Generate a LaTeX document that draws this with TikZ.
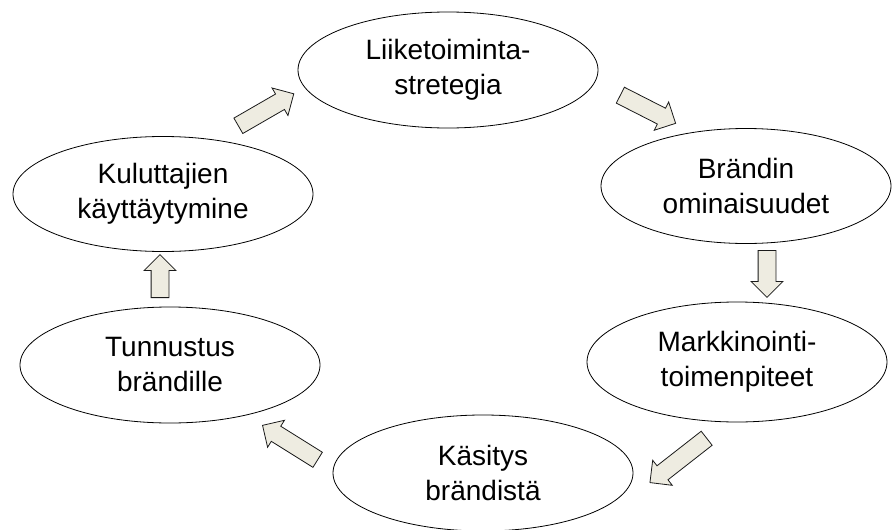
\documentclass[tikz,border=0pt]{standalone}
\usepackage{fontspec}
\setmainfont{Liberation Sans}
\usepackage{tikz}
\usetikzlibrary{shapes,shapes.geometric,shapes.arrows,calc,positioning}
\usepackage{xcolor}
\definecolor{arrowfill}{HTML}{EEECE1}
\definecolor{arrowline}{HTML}{1A1A1A}

\begin{document}
\begin{tikzpicture}[x=1pt,y=-1pt,
	  every node/.style={align=center,text=black},
	  stage/.style={ellipse,draw=black,line width=0.8pt,fill=white,inner sep=0pt,
	    minimum width=300pt,minimum height=116pt,font=\fontsize{28}{35}\selectfont},
	  flow/.style={single arrow,draw=arrowline,fill=arrowfill,line width=0.8pt,
	    inner xsep=0pt,inner ysep=8.5pt,single arrow head extend=7pt,
	    single arrow head indent=0pt,anchor=tail}]

	  \useasboundingbox (0,0) rectangle (892,530);

	  % Position the nodes at the reference coordinates
	  \node[stage] (strategia) at (448,70) {Liiketoiminta-\\stretegia};
	  \node[stage,minimum width=290pt,minimum height=115pt] (ominaisuudet) at (746,186) {Brändin\\ominaisuudet};
	  \node[stage,minimum height=120pt] (markkinointi) at (737,362) {Markkinointi-\\toimenpiteet};
	  \node[stage] (kasitys) at (483,473) {Käsitys\\brändistä};
	  \node[stage] (tunnustus) at (170,365) {Tunnustus\\brändille};
	  \node[stage,minimum height=115pt] (kuluttajat) at (163,194) {Kuluttajien\\käyttäytymine};

	  % Block arrows between the stages
	  \node[flow,rotate=30,minimum height=64pt] (kulstr) at (238,126) {};
	  \node[flow,rotate=-27,minimum height=62pt] (strom) at (620,95) {};
	  \node[flow,rotate=-90,minimum height=47pt] (ommar) at (767,250) {};
	  \node[flow,rotate=218,minimum height=72pt] (markas) at (707,438) {};
	  \node[flow,rotate=148,minimum height=65pt] (kastun) at (318,460) {};
	  \node[flow,rotate=90,minimum height=43pt] (tunkul) at (160,298) {};

\end{tikzpicture}
\end{document}
